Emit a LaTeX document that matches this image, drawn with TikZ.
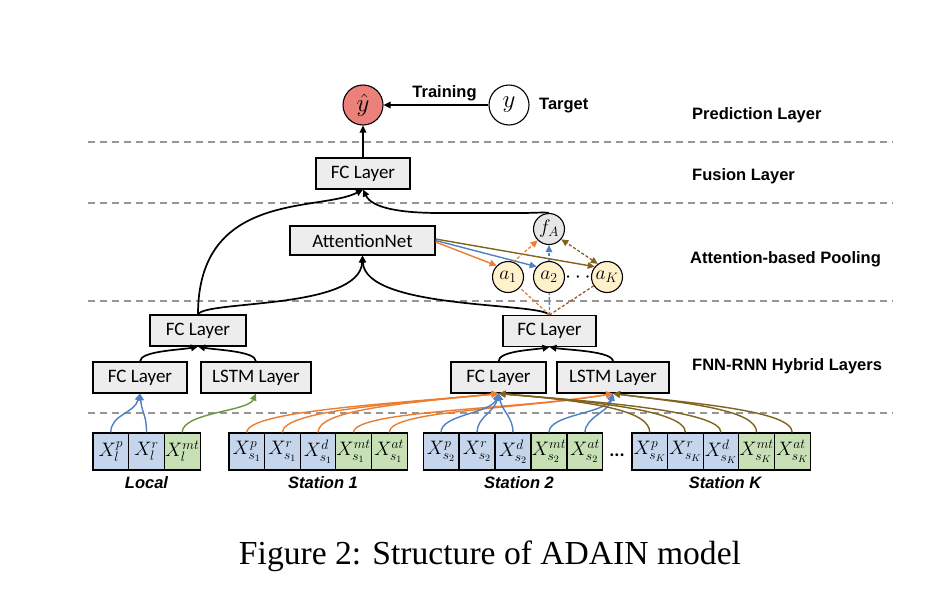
\documentclass[tikz,border=0pt]{standalone}
\usepackage{fix-cm}
\usepackage{fontspec}
\setmainfont{Carlito}
\newfontfamily\labfont{Liberation Sans}
\newfontfamily\capfont{Liberation Serif}
\usetikzlibrary{arrows.meta}
\definecolor{boxgray}{RGB}{237,237,237}
\definecolor{salmon}{RGB}{236,128,122}
\definecolor{cellblue}{RGB}{197,214,236}
\definecolor{cellgreen}{RGB}{200,224,182}
\definecolor{lorange}{RGB}{237,125,49}
\definecolor{lblue}{RGB}{78,128,196}
\definecolor{lgreen}{RGB}{106,150,62}
\definecolor{lolive}{RGB}{128,100,30}
\definecolor{lbrown}{RGB}{155,90,50}
\definecolor{fagray}{RGB}{230,230,230}
\definecolor{ayellow}{RGB}{255,241,204}
\definecolor{sepgray}{RGB}{150,150,150}
\tikzset{
  >={Triangle[length=7pt,width=6.5pt]},
  box/.style={draw=black, fill=boxgray, line width=1.1pt, minimum height=31pt, inner sep=0pt, font=\fontsize{19}{22}\selectfont},
  cellb/.style={draw=black, fill=cellblue, line width=1.1pt, minimum width=35.7pt, minimum height=37pt, inner sep=0pt, font=\fontsize{19.5}{22}\selectfont},
  cellg/.style={cellb, fill=cellgreen},
  circ/.style={circle, draw=black, line width=1.1pt, inner sep=0pt},
  blk/.style={draw=black, line width=1.7pt, ->},
  col/.style={line width=1.4pt, ->},
  sepline/.style={draw=sepgray, line width=1.3pt, dash pattern=on 7pt off 5pt},
  dsh/.style={line width=1.3pt, dash pattern=on 3pt off 2pt},
  lab/.style={font=\labfont\bfseries\fontsize{16.5}{18}\selectfont, anchor=base west, inner sep=0pt},
  stl/.style={font=\labfont\bfseries\itshape\fontsize{16.5}{18}\selectfont, anchor=base, inner sep=0pt},
}
\begin{document}
\begin{tikzpicture}[x=1pt,y=-1pt]
\useasboundingbox[fill=white] (0,0) rectangle (950,592);

% separators
\draw[sepline] (88,142) -- (893,142);
\draw[sepline] (88,203) -- (893,203);
\draw[sepline] (88,301) -- (893,301);
\draw[sepline] (88,413) -- (893,413);

% layer labels
\node[lab] (lpred) at (692,119) {Prediction Layer};
\node[lab] (lfus) at (692,180) {Fusion Layer};
\node[lab] (latt) at (690,263) {Attention-based Pooling};
\node[lab] (lhyb) at (692,370) {FNN-RNN Hybrid Layers};

% prediction
\node[circ, fill=salmon, minimum size=40pt, font=\fontsize{25}{27}\selectfont] (yhat) at (363,105) {$\hat{y}$};
\node[circ, fill=white, minimum size=40pt, font=\fontsize{25}{27}\selectfont] (yt) at (509,105) {$y$};
\node[lab, anchor=base] (ltrain) at (444.5,97) {Training};
\node[lab] (ltarget) at (539,109) {Target};

% boxes
\node[box, minimum width=94pt] (fus) at (363,173.5) {FC Layer};
\node[box, minimum width=145pt, minimum height=29pt] (att) at (362.5,240.5) {AttentionNet};
\node[box, minimum width=96pt] (lfc) at (198,330.5) {FC Layer};
\node[box, minimum width=94pt] (lfc2) at (140,377.5) {FC Layer};
\node[box, minimum width=110pt] (llstm) at (256,377.5) {LSTM Layer};
\node[box, minimum width=93pt] (rfc) at (549.5,331) {FC Layer};
\node[box, minimum width=95pt] (rfc2) at (498.5,377.5) {FC Layer};
\node[box, minimum width=112pt] (rlstm) at (613,377.5) {LSTM Layer};

% attention circles
\node[circ, fill=fagray, minimum size=31pt, font=\fontsize{19.5}{22}\selectfont] (fA) at (549,229) {$f_A$};
\node[circ, fill=ayellow, minimum size=31pt, font=\fontsize{19.5}{22}\selectfont] (a1) at (508,277) {$a_1$};
\node[circ, fill=ayellow, minimum size=31pt, font=\fontsize{19.5}{22}\selectfont] (a2) at (549,277) {$a_2$};
\node[circ, fill=ayellow, minimum size=31pt, font=\fontsize{19.5}{22}\selectfont] (aK) at (607,277) {$a_K$};
\node[inner sep=0pt, font=\bfseries\fontsize{22}{24}\selectfont] (adots) at (578,278) {$\cdots$};

% input cells
\node[cellb] (l1) at (110.8,451.5) {$X^{p}_{l}$};
\node[cellb] (l2) at (146.5,451.5) {$X^{r}_{l}$};
\node[cellg] (l3) at (182.2,451.5) {$X^{mt}_{l}$};

\node[cellb] (s1a) at (246.8,451.5) {$X^{p}_{s_1}$};
\node[cellb] (s1b) at (282.4,451.5) {$X^{r}_{s_1}$};
\node[cellb] (s1c) at (318.0,451.5) {$X^{d}_{s_1}$};
\node[cellg] (s1d) at (353.6,451.5) {$X^{mt}_{s_1}$};
\node[cellg] (s1e) at (389.2,451.5) {$X^{at}_{s_1}$};

\node[cellb] (s2a) at (441,451.5) {$X^{p}_{s_2}$};
\node[cellb] (s2b) at (477,451.5) {$X^{r}_{s_2}$};
\node[cellb] (s2c) at (513,451.5) {$X^{d}_{s_2}$};
\node[cellg] (s2d) at (549,451.5) {$X^{mt}_{s_2}$};
\node[cellg] (s2e) at (585,451.5) {$X^{at}_{s_2}$};

\node[cellb] (sKa) at (649.8,451.5) {$X^{p}_{s_K}$};
\node[cellb] (sKb) at (685.4,451.5) {$X^{r}_{s_K}$};
\node[cellb] (sKc) at (721.0,451.5) {$X^{d}_{s_K}$};
\node[cellg] (sKd) at (756.6,451.5) {$X^{mt}_{s_K}$};
\node[cellg] (sKe) at (792.2,451.5) {$X^{at}_{s_K}$};

\node[inner sep=0pt, font=\bfseries\fontsize{19}{22}\selectfont, anchor=base] (sdots) at (617,456) {...};

% station labels
\node[stl] (tloc) at (146.5,488) {Local};
\node[stl] (ts1) at (323,488) {Station 1};
\node[stl] (ts2) at (519,488) {Station 2};
\node[stl] (tsK) at (725,488) {Station K};

% caption
\node[font=\capfont\fontsize{33.6}{38}\selectfont, inner sep=0pt, anchor=base] (cap) at (490,564) {Figure 2: Structure of ADAIN model};

% black connectors
\draw[blk] (fus.north) -- (yhat.south);
\draw[blk] (yt.west) -- (yhat.east);
\draw[blk] (lfc.north) .. controls (198,190) and (320,212) .. (fus.south);
\draw[blk] (fA.north) .. controls (545,212) and (535,213) .. (520,213) -- (440,213) .. controls (400,213) and (372,208) .. (fus.south);
\draw[blk] (lfc.north) .. controls (205,300) and (360,310) .. (att.south);
\draw[blk] (rfc.north) .. controls (540,302) and (365,310) .. (att.south);
\draw[blk] (lfc2.north) .. controls (140,351) and (180,350) .. (lfc.south);
\draw[blk] (llstm.north) .. controls (256,351) and (216,350) .. (lfc.south);
\draw[blk] (rfc2.north) .. controls (498.5,351) and (532,350) .. (rfc.south);
\draw[blk] (rlstm.north) .. controls (613,351) and (567,350) .. (rfc.south);

% attention colored connectors
\draw[col, lorange] ([yshift=-1.5pt]att.east) -- (a1.135);
\draw[col, lblue] (att.east) -- (a2.140);
\draw[col, lolive] ([yshift=1.5pt]att.east) -- (aK.140);
\draw[dsh, lorange, ->] (a1.70) -- (fA.225);
\draw[dsh, lblue, ->] (a2.north) -- (fA.south);
\draw[dsh, lolive, <->] (aK.125) -- (fA.-40);
\draw[dsh, lorange] (rfc.north) -- (a1);
\draw[dsh, lblue] (rfc.north) -- (a2);
\draw[dsh, lbrown] (rfc.north) -- (aK);

% local connectors
\draw[col, lblue] (l1.north) .. controls +(0,-18) and +(-6,20) .. (lfc2.south);
\draw[col, lblue] (l2.north) .. controls +(0,-18) and +(2,20) .. (lfc2.south);
\draw[col, lgreen] (l3.north) .. controls +(0,-20) and +(-8,18) .. (llstm.south);

% station 1 (orange)
\foreach \c in {s1a,s1b,s1c}
  \draw[col, lorange] (\c.north) .. controls +(0,-22) and +(-100,10) .. (rfc2.south);
\foreach \c in {s1d,s1e}
  \draw[col, lorange] (\c.north) .. controls +(0,-22) and +(-95,16) .. (rlstm.south);

% station 2 (blue)
\draw[col, lblue] (s2a.north) .. controls +(0,-18) and +(-8,20) .. (rfc2.south);
\draw[col, lblue] (s2b.north) .. controls +(0,-15) and +(-4,18) .. (rfc2.south);
\draw[col, lblue] (s2c.north) .. controls +(0,-15) and +(4,18) .. (rfc2.south);
\draw[col, lblue] (s2d.north) .. controls +(0,-18) and +(-8,20) .. (rlstm.south);
\draw[col, lblue] (s2e.north) .. controls +(0,-15) and +(-4,18) .. (rlstm.south);

% station K (olive)
\foreach \c in {sKa,sKb,sKc}
  \draw[col, lolive] (\c.north) .. controls +(0,-22) and +(95,8) .. (rfc2.south);
\foreach \c in {sKd,sKe}
  \draw[col, lolive] (\c.north) .. controls +(0,-22) and +(80,10) .. (rlstm.south);
\end{tikzpicture}
\end{document}
